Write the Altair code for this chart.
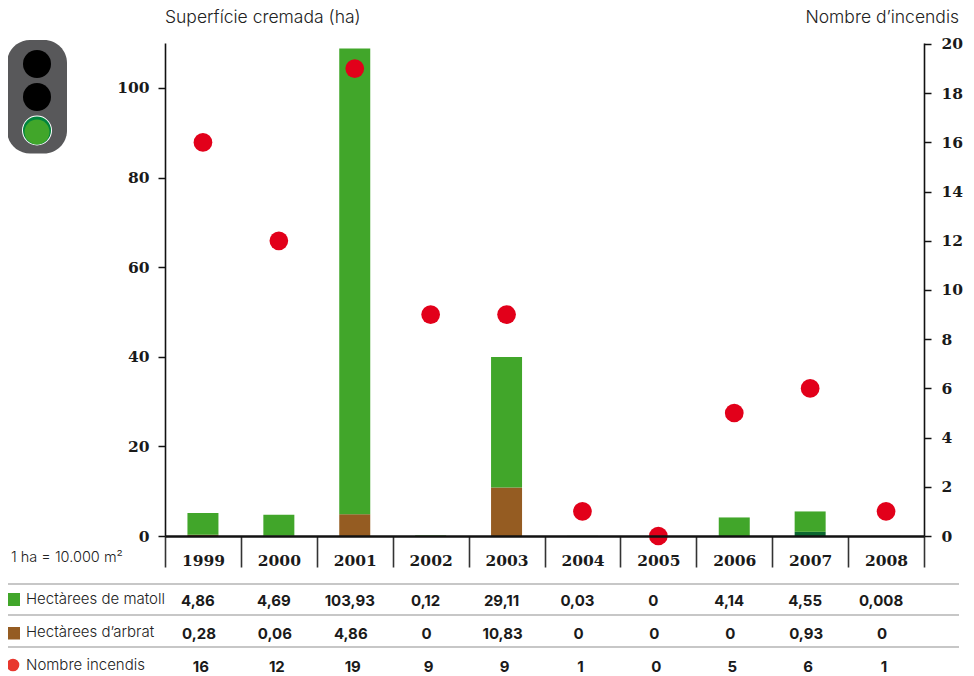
import altair as alt
import pandas as pd

years = ["1999", "2000", "2001", "2002", "2003", "2004", "2005", "2006", "2007", "2008"]
matoll = [4.86, 4.69, 103.93, 0.12, 29.11, 0.03, 0, 4.14, 4.55, 0.008]
arbrat = [0.28, 0.06, 4.86, 0, 10.83, 0, 0, 0, 0.93, 0]
incendis = [16, 12, 19, 9, 9, 1, 0, 5, 6, 1]
matoll_txt = ["4,86", "4,69", "103,93", "0,12", "29,11", "0,03", "0", "4,14", "4,55", "0,008"]
arbrat_txt = ["0,28", "0,06", "4,86", "0", "10,83", "0", "0", "0", "0,93", "0"]
incendis_txt = [str(v) for v in incendis]
row_names = ["Hectàrees de matoll", "Hectàrees d’arbrat", "Nombre incendis"]
left_ticks = [0, 20, 40, 60, 80, 100]
right_ticks = [0, 2, 4, 6, 8, 10, 12, 14, 16, 18, 20]

GREEN, BROWN, DARK, RED = "#41a62a", "#955c22", "#0b6630", "#e2001a"
SERIF = "DejaVu Serif"
SANS = "Inter"
PL, PT = 157, 35   # padding: plot area starts at page x=165, y=43
def px(v): return alt.value(v - PL - 8)
def py(v): return alt.value(v - PT - 8)

rows = []
for y, m, a in zip(years, matoll, arbrat):
    rows.append(dict(year=y, s="arbrat2007" if y == "2007" else "arbrat", v=a, o=0))
    rows.append(dict(year=y, s="matoll", v=m, o=1))
bars_df = pd.DataFrame(rows)
points_df = pd.DataFrame(dict(year=years, n=incendis))

xenc = alt.X("year:N", sort=years, title=None, scale=alt.Scale(domain=years, paddingInner=0, paddingOuter=0),
             axis=alt.Axis(tickBand="extent", tickSize=31, tickWidth=1.6, tickColor="#333333", domainColor="#111111",
                           domainWidth=2.5, labelAngle=0, labelFont=SERIF, labelFontWeight="bold", labelFontSize=15.5,
                           labelColor="#1a1a1a", labelPadding=-13.5, zindex=2, grid=False))

bars = alt.Chart(bars_df).mark_bar(width=31).encode(
    x=xenc,
    y=alt.Y("v:Q", stack="zero", title=None,
            scale=alt.Scale(domain=[0, 110.04], nice=False),
            axis=alt.Axis(values=left_ticks, tickSize=7, tickWidth=1.5, tickColor="#111111", domainColor="#111111",
                          domainWidth=1.6, labelFont=SERIF, labelFontWeight="bold", labelFontSize=15.5,
                          labelColor="#1a1a1a", labelPadding=9, grid=False, zindex=2)),
    color=alt.Color("s:N", legend=None,
                    scale=alt.Scale(domain=["matoll", "arbrat", "arbrat2007"], range=[GREEN, BROWN, DARK])),
    order=alt.Order("o:Q"),
)

dots = alt.Chart(points_df).mark_circle(size=350, color=RED, opacity=1).encode(
    x=alt.X("year:N", sort=years, title=None),
    y=alt.Y("n:Q", title=None,
            scale=alt.Scale(domain=[0, 20.04], nice=False),
            axis=alt.Axis(orient="right", values=right_ticks, tickSize=7, tickWidth=1.5, tickColor="#111111",
                          domainColor="#111111", domainWidth=1.6, labelFont=SERIF, labelFontWeight="bold",
                          labelFontSize=15.5, labelColor="#1a1a1a", labelPadding=10, grid=False, zindex=2)),
)

one = pd.DataFrame({"a": [0]})
base = alt.Chart(one)

def txt(s, x, y, size=15, align="left", weight=300, color="#222222"):
    return base.mark_text(text=s, font=SANS, fontSize=size, align=align, baseline="middle",
                          fontWeight=weight, color=color).encode(x=px(x), y=py(y))

def table_row(values, y, dx):
    df = pd.DataFrame(dict(year=years, t=values))
    return alt.Chart(df).mark_text(font=SANS, fontSize=15, fontWeight="bold", color="#1a1a1a", baseline="middle",
                                   dx=dx).encode(x=alt.X("year:N", sort=years, title=None), y=py(y), text="t:N")

rules = [base.mark_rule(color="#b4b4b4", strokeWidth=1.5).encode(x=px(7), x2=px(959), y=py(y)) for y in (584, 615, 647)]

def disc(x, y, size, color):
    return base.mark_point(shape="circle", size=size, filled=True, opacity=1, color=color).encode(x=px(x), y=py(y))

light_box = base.mark_rect(color="#58585a", cornerRadius=23).encode(x=px(7), x2=px(67), y=py(40), y2=py(153.5))
swatches = [
    base.mark_rect(color=GREEN).encode(x=px(7), x2=px(20), y=py(593), y2=py(606)),
    base.mark_rect(color=BROWN).encode(x=px(7), x2=px(20), y=py(627), y2=py(639.5)),
    disc(13, 665, 160, "#e8372e"),
]

chart = alt.layer(
    bars,
    dots,
    light_box,
    disc(37, 64, 784, "#000000"),
    disc(37, 97, 784, "#000000"),
    disc(37, 130.5, 900, "#ffffff"),
    disc(37, 130.5, 784, "#00843d"),
    disc(37, 132, 625, GREEN),
    *rules,
    *swatches,
    txt("Superfície cremada (ha)", 165, 17.5, size=17.5),
    txt("Nombre d’incendis", 959, 17.5, size=17.5, align="right"),
    txt("1 ha = 10.000 m²", 11, 558, size=14.5),
    txt(row_names[0], 26, 599, size=15),
    txt(row_names[1], 26, 632, size=15),
    txt(row_names[2], 26, 665, size=15),
    table_row(matoll_txt, 601, -5),
    table_row(arbrat_txt, 634, -4),
    table_row(incendis_txt, 667, -2),
).resolve_scale(y="independent").properties(
    width=759, height=493,
    autosize=alt.AutoSizeParams(type="none"),
    padding={"left": PL, "top": PT, "right": 42, "bottom": 140},
).configure_view(stroke=None)

chart.save("out.html", embed_options={"renderer": "svg", "actions": False})
